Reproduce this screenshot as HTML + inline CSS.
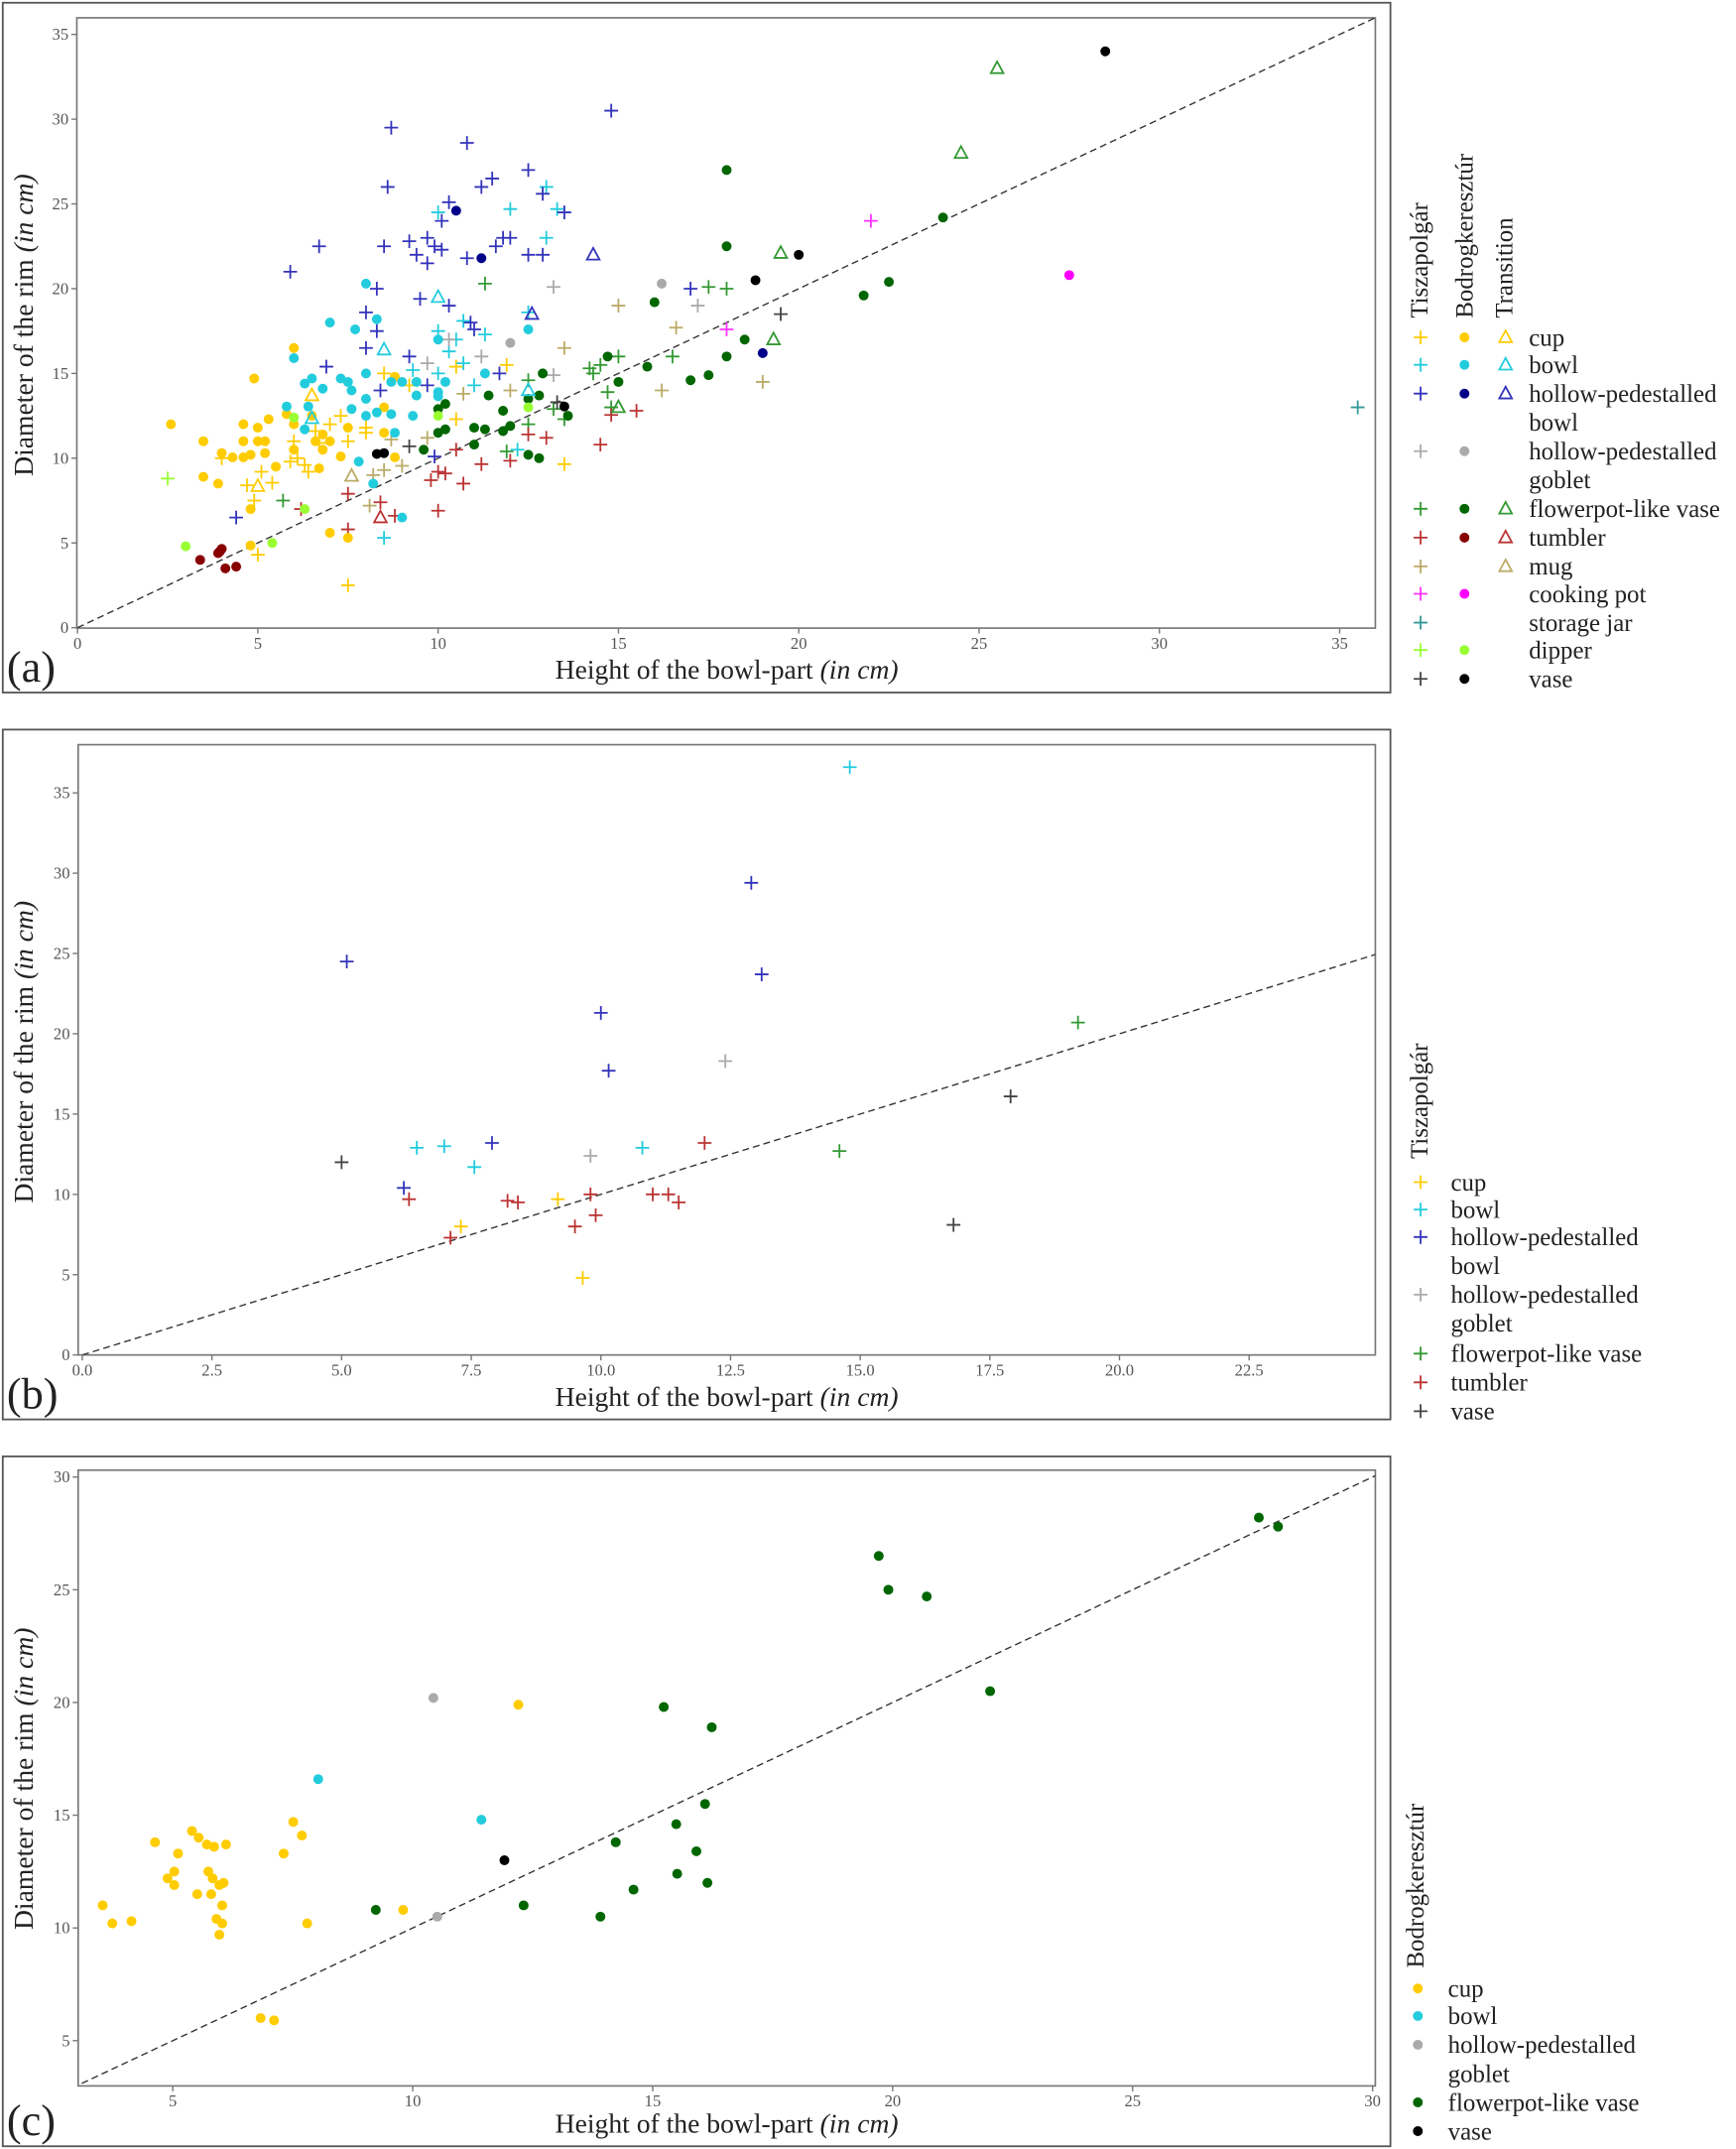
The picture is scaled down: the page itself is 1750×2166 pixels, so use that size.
<!DOCTYPE html>
<html><head><meta charset="utf-8"><style>
html,body{margin:0;padding:0;background:#fff;}
svg{display:block;}
text{font-family:"Liberation Serif",serif;}
</style></head><body>
<svg id="fig" width="1750" height="2166" viewBox="0 0 1266 1567" xmlns="http://www.w3.org/2000/svg">
<g id="layer"></g>
</svg>
<script>
// ---------- Panel (a) data ----------
const aTiszCup=[[4.0,10.0],[4.7,8.4],[4.9,7.5],[5.0,4.3],[5.1,9.2],[5.4,8.55],[6.0,11.0],[6.1,10.0],[6.3,9.6],[6.4,9.2],[6.7,10.9],[7.0,12.0],[7.3,12.5],[7.5,11.0],[8.0,11.8],[8.0,11.5],[7.5,2.5],[8.5,15.0],[9.2,14.3],[10.5,15.4],[10.5,12.3],[11.9,15.5],[13.5,9.65],[5.9,9.8],[6.6,11.6]];
const aTiszBowl=[[8.5,5.3],[10.0,24.5],[10.0,17.5],[10.0,15.0],[10.5,17.0],[10.3,16.3],[10.7,15.6],[11.0,14.3],[11.3,17.3],[12.0,24.7],[12.2,10.5],[12.5,18.6],[13.0,26.0],[13.0,23.0],[13.3,24.7],[9.3,15.2],[10.7,18.1]];
const aTiszHpBowl=[[4.4,6.5],[5.9,21.0],[6.7,22.5],[6.9,15.4],[8.0,18.6],[8.0,16.5],[8.3,17.5],[8.3,20.0],[8.4,14.0],[8.5,22.5],[8.6,26.0],[8.7,29.5],[9.2,22.8],[9.2,16.0],[9.4,22.0],[9.5,19.4],[9.7,23.0],[9.7,21.5],[9.7,14.3],[9.9,22.5],[9.9,10.1],[10.1,22.3],[10.1,24.0],[10.3,25.1],[10.3,19.0],[10.8,28.6],[10.8,21.8],[10.9,18.0],[11.0,17.6],[11.2,26.0],[11.5,26.5],[11.6,22.5],[11.8,23.0],[12.0,23.0],[11.7,15.0],[12.5,27.0],[12.5,22.0],[12.9,22.0],[12.9,25.6],[13.5,24.5],[14.8,30.5],[17.0,20.0]];
const aTiszHpGoblet=[[13.2,20.1],[11.2,16.0],[9.7,15.6],[10.3,17.0],[13.2,14.9],[17.2,19.0]];
const aTiszFlower=[[5.7,7.5],[11.3,20.3],[11.9,10.4],[12.5,14.6],[12.5,12.0],[13.2,12.9],[13.5,12.3],[14.3,15.0],[14.5,15.5],[14.7,13.9],[15.0,16.0],[16.5,16.0],[17.5,20.1],[18.0,20.0],[14.8,13.0],[14.2,15.3]];
const aTiszTumbler=[[7.5,7.9],[7.5,5.8],[8.4,7.4],[8.8,6.6],[9.8,8.7],[10.0,9.2],[10.0,6.9],[10.2,9.1],[10.5,10.5],[10.7,8.5],[11.2,9.65],[12.0,9.85],[12.5,11.4],[13.0,11.2],[14.5,10.8],[14.8,12.55],[15.5,12.8],[6.2,7.0]];
const aTiszMug=[[8.1,7.2],[8.2,9.0],[8.5,9.3],[8.7,11.1],[9.0,9.55],[9.7,11.2],[10.7,13.8],[12.0,14.0],[13.5,16.5],[15.0,19.0],[16.2,14.0],[16.6,17.7],[19.0,14.5]];
const aTiszCook=[[22.0,24.0],[18.0,17.6]];
const aTiszStorage=[[35.5,13.0]];
const aTiszDipper=[[2.5,8.8]];
const aTiszVase=[[9.2,10.7],[13.3,13.3],[19.5,18.5]];
const aBodCup=[[2.59,12.0],[3.49,11.0],[3.49,8.9],[3.9,8.5],[4.0,10.3],[4.3,10.05],[4.6,12.0],[4.6,11.0],[4.6,10.05],[4.8,10.2],[4.8,7.0],[4.8,4.85],[4.9,14.7],[5.0,11.8],[5.0,11.0],[5.2,11.0],[5.2,10.3],[5.3,12.3],[5.5,9.5],[5.8,12.6],[6.0,16.5],[6.0,12.0],[6.0,10.5],[6.6,11.0],[6.7,9.4],[6.8,10.5],[6.8,11.4],[7.0,11.0],[7.0,5.6],[7.3,10.1],[7.5,11.8],[7.5,5.3],[8.5,13.0],[8.5,11.5],[8.8,10.05],[8.8,14.8],[6.5,12.5]];
const aBodBowl=[[5.8,13.05],[6.0,15.9],[6.3,14.4],[6.4,13.05],[6.5,14.7],[6.3,11.7],[6.8,14.1],[7.0,18.0],[7.3,14.7],[7.5,14.5],[7.6,14.0],[7.7,17.6],[7.6,12.9],[8.0,20.3],[8.0,15.0],[8.0,13.5],[8.0,12.5],[8.3,18.2],[8.3,12.7],[8.7,12.6],[8.7,14.5],[8.8,11.5],[9.0,14.5],[9.0,6.5],[9.3,12.5],[9.4,14.5],[9.4,13.7],[7.8,9.8],[8.2,8.5],[10.0,17.0],[10.0,13.9],[10.0,13.65],[10.2,14.5],[11.3,15.0],[12.5,17.6]];
const aBodHpBowl=[[10.5,24.6],[11.2,21.8],[19.0,16.2]];
const aBodHpGoblet=[[12.0,16.8],[16.2,20.3]];
const aBodFlower=[[9.6,10.5],[10.0,12.9],[10.0,11.5],[10.2,13.2],[10.2,11.7],[11.0,11.8],[11.0,10.8],[11.3,11.7],[11.4,13.7],[11.8,12.8],[11.8,11.6],[12.0,11.9],[12.5,13.5],[12.5,10.2],[12.8,13.7],[12.8,10.0],[12.9,15.0],[13.6,12.5],[14.7,16.0],[15.0,14.5],[15.8,15.4],[16.0,19.2],[17.0,14.6],[18.0,27.0],[18.0,22.5],[18.0,16.0],[17.5,14.9],[18.5,17.0],[21.8,19.6],[22.5,20.4],[24.0,24.2]];
const aBodTumbler=[[3.4,4.0],[3.9,4.4],[4.0,4.65],[4.1,3.5],[4.4,3.6],[3.95,4.5]];
const aBodCook=[[27.5,20.8]];
const aBodDipper=[[3.0,4.8],[5.4,5.0],[6.3,7.0],[10.0,12.5],[12.5,13.0],[6.0,12.4]];
const aBodVase=[[8.3,10.25],[8.5,10.3],[13.5,13.05],[18.8,20.5],[20.0,22.0],[28.5,34.0]];
const aTrCup=[[5.0,8.35],[6.5,13.7]];
const aTrBowl=[[6.5,12.35],[8.5,16.4],[10.0,19.5],[12.5,14.0]];
const aTrHpBowl=[[14.3,22.0],[12.6,18.5]];
const aTrFlower=[[15.0,13.0],[19.5,22.1],[19.3,17.0],[24.5,28.0],[25.5,33.0]];
const aTrTumbler=[[8.4,6.5]];
const aTrMug=[[7.6,8.95]];
const aXTicks=[0,5,10,15,20,25,30,35];
const aYTicks=[0,5,10,15,20,25,30,35];
// ---------- Panel (b) data ----------
const bCup=[[9.17,9.7],[7.3,8.0],[9.65,4.8]];
const bBowl=[[14.8,36.6],[6.45,12.9],[6.98,13.0],[7.56,11.7],[10.8,12.9]];
const bHpBowl=[[5.1,24.5],[12.9,29.4],[13.1,23.7],[10.0,21.3],[10.15,17.7],[7.9,13.2],[6.2,10.4]];
const bHpGoblet=[[12.4,18.3],[9.8,12.4]];
const bFlower=[[19.2,20.7],[14.6,12.7]];
const bTumbler=[[6.3,9.7],[7.1,7.3],[8.2,9.6],[8.4,9.5],[9.5,8.0],[9.8,10.0],[9.9,8.7],[11.0,10.0],[11.3,10.0],[11.5,9.5],[12.0,13.2]];
const bVase=[[5.0,12.0],[17.9,16.1],[16.8,8.1]];
const bXTicks=[0,2.5,5,7.5,10,12.5,15,17.5,20,22.5];
const bXLabels=["0.0","2.5","5.0","7.5","10.0","12.5","15.0","17.5","20.0","22.5"];
const bYTicks=[0,5,10,15,20,25,30,35];
// ---------- Panel (c) data ----------
const cCup=[[3.54,11.0],[3.74,10.2],[4.14,10.3],[4.63,13.8],[4.89,12.2],[5.03,12.5],[5.03,11.9],[5.11,13.3],[5.4,14.3],[5.54,14.0],[5.51,11.5],[5.74,12.5],[5.71,13.7],[5.83,12.2],[5.8,11.5],[5.86,13.6],[5.91,10.4],[5.97,9.7],[5.97,11.9],[6.03,11.0],[6.03,10.2],[6.06,12.0],[6.11,13.7],[6.83,6.0],[7.11,5.9],[7.31,13.3],[7.51,14.7],[7.69,14.1],[7.8,10.2],[9.8,10.8],[12.2,19.9]];
const cBowl=[[8.03,16.6],[11.43,14.8]];
const cHpGoblet=[[10.43,20.2],[10.51,10.5]];
const cFlower=[[9.23,10.8],[12.31,11.0],[13.91,10.5],[14.23,13.8],[14.6,11.7],[15.49,14.6],[15.51,12.4],[15.91,13.4],[16.09,15.5],[16.14,12.0],[15.23,19.8],[16.23,18.9],[19.71,26.5],[19.91,25.0],[20.71,24.7],[22.03,20.5],[27.63,28.2],[28.03,27.8]];
const cVase=[[11.91,13.0]];
const cXTicks=[5,10,15,20,25,30];
const cYTicks=[5,10,15,20,25,30];

const C={cup:"#ffcc00",bowl:"#22ccdd",hpb:"#3333bb",hpbB:"#000088",hpg:"#aaaaaa",fl:"#339933",flB:"#006600",tum:"#bb3333",tumB:"#880000",mug:"#bbaa66",cook:"#ff33ff",stor:"#339999",dip:"#99ff33",vase:"#444444",vaseB:"#000000"};
const NS="http://www.w3.org/2000/svg";
const root=document.getElementById('layer');
function mk(tag,attrs,parent){const e=document.createElementNS(NS,tag);for(const k in attrs)e.setAttribute(k,attrs[k]);(parent||root).appendChild(e);return e;}
function txt(s,attrs,parent){const e=mk('text',attrs,parent);e.textContent=s;return e;}

function marker(kind,color,px,py,parent){
  let e;
  if(kind==='dot'){e=mk('circle',{cx:px,cy:py,r:3.6,fill:color},parent);}
  else if(kind==='plus'){e=mk('path',{d:`M${px-5},${py}H${px+5}M${px},${py-5}V${py+5}`,stroke:color,'stroke-width':1.3,fill:'none'},parent);}
  else {e=mk('path',{d:`M${px},${py-5}L${px+4.6},${py+3.5}L${px-4.6},${py+3.5}Z`,stroke:color,'stroke-width':1.3,fill:'none'},parent);}
  return e;
}

function panel(cfg){
  const g=mk('g',{});
  
  
  const box=mk('rect',{x:2,y:cfg.boxTop,width:1012,height:503,fill:'none',stroke:'#555','stroke-width':1.3},g);
  
  
  const fr=mk('rect',{x:cfg.L,y:cfg.T,width:cfg.R-cfg.L,height:cfg.B-cfg.T,fill:'none',stroke:'#777','stroke-width':1.2},g);
  
  
  const sx=v=>cfg.x0px+(v-cfg.x0)*cfg.kx, sy=v=>cfg.y0px-(v-cfg.y0)*cfg.ky;
  // ticks
  cfg.xt.forEach((v,i)=>{
    mk('line',{x1:sx(v),x2:sx(v),y1:cfg.B,y2:cfg.B+4,stroke:'#777'},g);
    const t=txt(cfg.xl?cfg.xl[i]:String(v),{x:sx(v),y:cfg.B+15,'font-size':12,'text-anchor':'middle',fill:'#555'},g);
    
    
  });
  cfg.yt.forEach(v=>{
    mk('line',{x1:cfg.L-4,x2:cfg.L,y1:sy(v),y2:sy(v),stroke:'#777'},g);
    const t=txt(String(v),{x:cfg.L-6,y:sy(v)+4,'font-size':12,'text-anchor':'end',fill:'#555'},g);
    
    
  });
  // reference line y=x clipped
  const cid='clip'+cfg.boxTop;
  const cp=mk('clipPath',{id:cid},g);mk('rect',{x:cfg.L,y:cfg.T,width:cfg.R-cfg.L,height:cfg.B-cfg.T},cp);
  const dl=mk('line',{x1:sx(cfg.lineMin),y1:sy(cfg.lineMin),x2:sx(40),y2:sy(40),stroke:'#333','stroke-width':1,'stroke-dasharray':'5,3','clip-path':`url(#${cid})`},g);
  
  
  cfg.series.forEach(s=>{
    s.data.forEach(p=>{
      const m=marker(s.kind,s.color,sx(p[0]),sy(p[1]),g);
      
      
    });
  });
  const xt=txt('',{x:530,y:cfg.boxTop+493,'font-size':20,'text-anchor':'middle',fill:'#222'},g);
  xt.innerHTML='Height of the bowl-part <tspan font-style="italic">(in cm)</tspan>';
  
  
  const yc=cfg.boxTop+235;
  const yt=txt('',{x:0,y:0,'font-size':20,'text-anchor':'middle',fill:'#222',transform:`translate(24,${yc}) rotate(-90)`},g);
  yt.innerHTML='Diameter of the rim <tspan font-style="italic">(in cm)</tspan>';
  
  
  const pl=txt(cfg.label,{x:5,y:cfg.boxTop+495,'font-size':32,fill:'#222'},g);
  
  
  // legend
  const lg=mk('g',{},g);
  
  
  cfg.groups.forEach(gr=>{
    const t=txt(gr[0],{x:0,y:0,'font-size':18,fill:'#222',transform:`translate(${gr[1]},${gr[2]}) rotate(-90)`},lg);
    
    
  });
  cfg.legend.forEach(r=>{
    r.marks.forEach(mm=>{
      const m=marker(mm[0],mm[1],mm[2],r.y-5,lg);
      
      
    });
    const t=txt(r.label,{x:cfg.legX,y:r.y+1,'font-size':18,fill:'#222'},lg);
    
    
  });
}

// Panel a
panel({name:'panel-a',label:'(a)',boxTop:2,L:56,T:13,R:1003,B:458,x0:0,x0px:56.5,kx:26.3,y0:0,y0px:457.7,ky:12.36,xt:aXTicks,yt:aYTicks,lineMin:0,
 series:[
  {data:aTiszCup,kind:'plus',color:C.cup,sname:'tiszapolgar-cup'},{data:aTiszBowl,kind:'plus',color:C.bowl,sname:'tiszapolgar-bowl'},
  {data:aTiszHpBowl,kind:'plus',color:C.hpb,sname:'tiszapolgar-hp-bowl'},{data:aTiszHpGoblet,kind:'plus',color:C.hpg,sname:'tiszapolgar-hp-goblet'},
  {data:aTiszFlower,kind:'plus',color:C.fl,sname:'tiszapolgar-flowerpot'},{data:aTiszTumbler,kind:'plus',color:C.tum,sname:'tiszapolgar-tumbler'},
  {data:aTiszMug,kind:'plus',color:C.mug,sname:'tiszapolgar-mug'},{data:aTiszCook,kind:'plus',color:C.cook,sname:'tiszapolgar-cooking-pot'},
  {data:aTiszStorage,kind:'plus',color:C.stor,sname:'tiszapolgar-storage-jar'},{data:aTiszDipper,kind:'plus',color:C.dip,sname:'tiszapolgar-dipper'},
  {data:aTiszVase,kind:'plus',color:C.vase,sname:'tiszapolgar-vase'},
  {data:aBodCup,kind:'dot',color:C.cup,sname:'bodrog-cup'},{data:aBodBowl,kind:'dot',color:C.bowl,sname:'bodrog-bowl'},
  {data:aBodHpBowl,kind:'dot',color:C.hpbB,sname:'bodrog-hp-bowl'},{data:aBodHpGoblet,kind:'dot',color:C.hpg,sname:'bodrog-hp-goblet'},
  {data:aBodFlower,kind:'dot',color:C.flB,sname:'bodrog-flowerpot'},{data:aBodTumbler,kind:'dot',color:C.tumB,sname:'bodrog-tumbler'},
  {data:aBodCook,kind:'dot',color:'#ff00ff',sname:'bodrog-cooking-pot'},{data:aBodDipper,kind:'dot',color:C.dip,sname:'bodrog-dipper'},
  {data:aBodVase,kind:'dot',color:C.vaseB,sname:'bodrog-vase'},
  {data:aTrCup,kind:'tri',color:C.cup,sname:'transition-cup'},{data:aTrBowl,kind:'tri',color:C.bowl,sname:'transition-bowl'},
  {data:aTrHpBowl,kind:'tri',color:C.hpb,sname:'transition-hp-bowl'},{data:aTrFlower,kind:'tri',color:C.fl,sname:'transition-flowerpot'},
  {data:aTrTumbler,kind:'tri',color:C.tum,sname:'transition-tumbler'},{data:aTrMug,kind:'tri',color:C.mug,sname:'transition-mug'}],
 groups:[['Tiszapolgár',1041,232],['Bodrogkeresztúr',1074,232],['Transition',1103,232]],legX:1115,
 legend:[
  {label:'cup',y:251,marks:[['plus',C.cup,1036],['dot',C.cup,1068],['tri',C.cup,1098]]},
  {label:'bowl',y:271,marks:[['plus',C.bowl,1036],['dot',C.bowl,1068],['tri',C.bowl,1098]]},
  {label:'hollow-pedestalled',y:292,marks:[['plus',C.hpb,1036],['dot',C.hpbB,1068],['tri',C.hpb,1098]]},
  {label:'bowl',y:313,marks:[]},
  {label:'hollow-pedestalled',y:334,marks:[['plus',C.hpg,1036],['dot',C.hpg,1068]]},
  {label:'goblet',y:355,marks:[]},
  {label:'flowerpot-like vase',y:376,marks:[['plus',C.fl,1036],['dot',C.flB,1068],['tri',C.fl,1098]]},
  {label:'tumbler',y:397,marks:[['plus',C.tum,1036],['dot',C.tumB,1068],['tri',C.tum,1098]]},
  {label:'mug',y:418,marks:[['plus',C.mug,1036],['tri',C.mug,1098]]},
  {label:'cooking pot',y:438,marks:[['plus',C.cook,1036],['dot','#ff00ff',1068]]},
  {label:'storage jar',y:459,marks:[['plus',C.stor,1036]]},
  {label:'dipper',y:479,marks:[['plus',C.dip,1036],['dot',C.dip,1068]]},
  {label:'vase',y:500,marks:[['plus',C.vase,1036],['dot',C.vaseB,1068]]}]});

// Panel b
panel({name:'panel-b',label:'(b)',boxTop:532,L:57,T:543,R:1003,B:988,x0:0,x0px:60,kx:37.82,y0:0,y0px:988,ky:11.71,xt:bXTicks,xl:bXLabels,yt:bYTicks,lineMin:0,
 series:[{data:bCup,kind:'plus',color:C.cup,sname:'tiszapolgar-cup'},{data:bBowl,kind:'plus',color:C.bowl,sname:'tiszapolgar-bowl'},
  {data:bHpBowl,kind:'plus',color:C.hpb,sname:'tiszapolgar-hp-bowl'},{data:bHpGoblet,kind:'plus',color:C.hpg,sname:'tiszapolgar-hp-goblet'},
  {data:bFlower,kind:'plus',color:C.fl,sname:'tiszapolgar-flowerpot'},{data:bTumbler,kind:'plus',color:C.tum,sname:'tiszapolgar-tumbler'},
  {data:bVase,kind:'plus',color:C.vase,sname:'tiszapolgar-vase'}],
 groups:[['Tiszapolgár',1041,845]],legX:1058,
 legend:[{label:'cup',y:867,marks:[['plus',C.cup,1036]]},{label:'bowl',y:887,marks:[['plus',C.bowl,1036]]},
  {label:'hollow-pedestalled',y:907,marks:[['plus',C.hpb,1036]]},{label:'bowl',y:928,marks:[]},
  {label:'hollow-pedestalled',y:949,marks:[['plus',C.hpg,1036]]},{label:'goblet',y:970,marks:[]},
  {label:'flowerpot-like vase',y:992,marks:[['plus',C.fl,1036]]},{label:'tumbler',y:1013,marks:[['plus',C.tum,1036]]},
  {label:'vase',y:1034,marks:[['plus',C.vase,1036]]}]});

// Panel c
panel({name:'panel-c',label:'(c)',boxTop:1062,L:57,T:1072,R:1003,B:1521,x0:5,x0px:126,kx:35,y0:5,y0px:1488,ky:16.44,xt:cXTicks,yt:cYTicks,lineMin:0,
 series:[{data:cCup,kind:'dot',color:C.cup,sname:'bodrog-cup'},{data:cBowl,kind:'dot',color:C.bowl,sname:'bodrog-bowl'},
  {data:cHpGoblet,kind:'dot',color:C.hpg,sname:'bodrog-hp-goblet'},{data:cFlower,kind:'dot',color:C.flB,sname:'bodrog-flowerpot'},
  {data:cVase,kind:'dot',color:C.vaseB,sname:'bodrog-vase'}],
 groups:[['Bodrogkeresztúr',1038,1435]],legX:1056,
 legend:[{label:'cup',y:1455,marks:[['dot',C.cup,1034]]},{label:'bowl',y:1475,marks:[['dot',C.bowl,1034]]},
  {label:'hollow-pedestalled',y:1496,marks:[['dot',C.hpg,1034]]},{label:'goblet',y:1517,marks:[]},
  {label:'flowerpot-like vase',y:1538,marks:[['dot',C.flB,1034]]},{label:'vase',y:1559,marks:[['dot',C.vaseB,1034]]}]});
</script>
</body></html>
